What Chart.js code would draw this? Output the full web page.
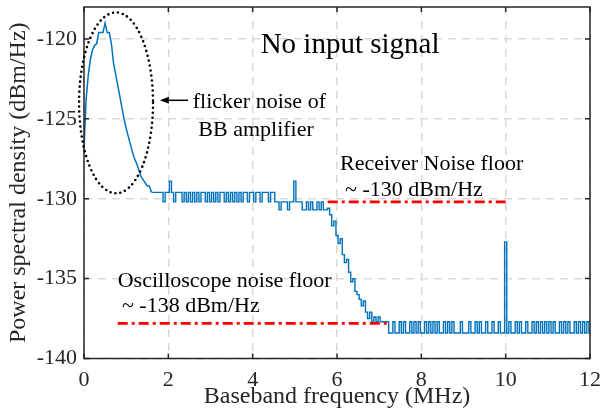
<!DOCTYPE html>
<html>
<head>
<meta charset="utf-8">
<script src="https://cdn.jsdelivr.net/npm/chart.js@4.4.1/dist/chart.umd.min.js"></script>
<style>
  html, body { margin: 0; padding: 0; background: #ffffff; }
  canvas { display: block; }
</style>
</head>
<body>
<canvas id="psd" width="603" height="411"></canvas>
<script>
// Spectrum sampled every 50 kHz from 0 to 12 MHz (dBm/Hz)
const FREQ_STEP_MHZ = 0.05;

// 0 - 1.60 MHz: flicker noise hump of the baseband amplifier
const psdFlicker = [
  -126.8, -123.8, -122.3, -121.3, -120.7, -120.4, -120.3, -119.6, -119.6, -119.6,
  -119.0, -119.6, -119.6, -120.3, -121.5, -122.2, -122.9, -123.6, -124.3, -125.0,
  -125.6, -126.1, -126.6, -127.1, -127.5, -127.8, -128.2, -128.6, -128.8, -129.0,
  -129.2, -129.2, -129.6
];

// 1.65 - 5.75 MHz: receiver noise plateau
const psdPlateau = [
  -129.6, -129.6, -129.6, -129.6, -129.6, -130.2, -129.6, -129.6, -128.9, -129.6,
  -130.2, -129.6, -129.6, -129.6, -130.2, -129.6, -130.2, -129.6, -130.2, -129.6,
  -130.2, -129.6, -130.2, -129.6, -129.6, -130.2, -129.6, -130.2, -129.6, -130.2,
  -129.6, -130.2, -129.6, -129.6, -130.2, -129.6, -130.2, -129.6, -130.2, -129.6,
  -130.2, -129.6, -130.2, -129.6, -129.6, -130.2, -129.6, -129.6, -130.2, -129.6,
  -129.6, -130.2, -129.6, -129.6, -129.6, -130.2, -129.6, -129.6, -130.2, -130.2,
  -130.7, -130.2, -130.2, -130.2, -130.7, -130.2, -130.2, -128.9, -130.2, -130.2,
  -130.2, -130.7, -130.7, -130.2, -130.7, -130.2, -130.7, -130.7, -130.2, -130.7,
  -130.2, -130.7, -130.7
];

// 5.80 - 7.25 MHz: filter roll-off
const psdRolloff = [
  -130.6, -131.0, -131.7, -131.4, -132.3, -132.8, -132.5, -133.5, -134.0, -133.8,
  -134.6, -135.2, -135.0, -135.8, -136.0, -136.3, -136.7, -136.4, -137.1, -137.5,
  -137.1, -137.7, -137.4, -137.7, -137.4, -137.7, -137.7, -137.7, -137.7, -138.4
];

// 7.30 - 12.00 MHz: oscilloscope noise floor (spur at 10 MHz)
const psdFloor = [
  -138.4, -137.7, -138.4, -138.4, -137.7, -138.4, -137.7, -138.4, -138.4, -137.7,
  -138.4, -137.7, -138.4, -137.7, -138.4, -138.4, -137.7, -138.4, -137.7, -138.4,
  -137.7, -138.4, -137.7, -138.4, -138.4, -137.7, -138.4, -137.7, -138.4, -137.7,
  -138.4, -138.4, -138.4, -137.7, -138.4, -138.4, -138.4, -137.7, -138.4, -138.4,
  -137.7, -138.4, -137.7, -138.4, -138.4, -137.7, -138.4, -138.4, -137.7, -138.4,
  -138.4, -137.7, -138.4, -138.4, -132.7, -138.4, -137.7, -138.4, -138.4, -137.7,
  -138.4, -137.7, -138.4, -138.4, -137.7, -138.4, -138.4, -137.7, -138.4, -137.7,
  -138.4, -137.7, -138.4, -137.7, -138.4, -137.7, -138.4, -137.7, -138.4, -138.4,
  -137.7, -138.4, -137.7, -138.4, -137.7, -138.4, -138.4, -137.7, -138.4, -137.7,
  -138.4, -137.7, -138.4, -137.7, -138.4
];

// Reference noise-floor levels (dash-dot lines)
const receiverFloorX = [5.78, 10.0];
const receiverFloorY = [-130.2, -130.2];
const scopeFloorX = [0.8, 7.2];
const scopeFloorY = [-137.8, -137.8];

// Axis ticks
const xTicks = [0, 2, 4, 6, 8, 10, 12];
const yTicks = [-140, -135, -130, -125, -120];

const psd = [...psdFlicker, ...psdPlateau, ...psdRolloff, ...psdFloor];
const spectrum = psd.map((v, i) => ({ x: +(i * FREQ_STEP_MHZ).toFixed(2), y: v }));
// smooth hump drawn as a polyline, quantised noise part drawn as steps
const humpPoints = spectrum.slice(0, psdFlicker.length);
const noisePoints = spectrum.slice(psdFlicker.length - 1);
const toPoints = (xs, ys) => xs.map((v, i) => ({ x: v, y: ys[i] }));

const SERIF = '"Liberation Serif", "Times New Roman", Times, serif';
const AXIS_INK = '#262626';
const TRACE = '#0072BD';

// Callouts placed in data coordinates (MHz, dBm/Hz)
const labels = [
  { text: 'No input signal',          x: 6.31, y: -120.85, size: 29, align: 'center' },
  { text: 'flicker noise of',         x: 2.58, y: -124.34, size: 22, align: 'left' },
  { text: 'BB amplifier',             x: 4.08, y: -126.09, size: 22, align: 'center' },
  { text: 'Receiver Noise floor',     x: 6.07, y: -128.22, size: 22, align: 'left' },
  { text: '~ -130 dBm/Hz',            x: 6.19, y: -129.84, size: 22, align: 'left' },
  { text: 'Oscilloscope noise floor', x: 0.80, y: -135.53, size: 22, align: 'left' },
  { text: '~ -138 dBm/Hz',            x: 0.90, y: -137.09, size: 22, align: 'left' }
];
const flickerRing = { cx: 0.76, cy: -124.0, rx: 0.877, ry: 5.66 };
const flickerArrow = { x0: 2.47, x1: 1.80, y: -123.84 };

const decorations = {
  id: 'decorations',
  afterDraw(chart) {
    const { ctx, chartArea: a, scales: { x, y } } = chart;
    ctx.save();

    // axes box with inward tick marks on all four sides
    ctx.strokeStyle = AXIS_INK;
    ctx.lineWidth = 1.5;
    ctx.setLineDash([]);
    ctx.strokeRect(a.left, a.top, a.right - a.left, a.bottom - a.top);
    const tl = 5;
    ctx.beginPath();
    xTicks.forEach(v => {
      const px = x.getPixelForValue(v);
      ctx.moveTo(px, a.bottom); ctx.lineTo(px, a.bottom - tl);
      ctx.moveTo(px, a.top);    ctx.lineTo(px, a.top + tl);
    });
    yTicks.forEach(v => {
      const py = y.getPixelForValue(v);
      ctx.moveTo(a.left, py);  ctx.lineTo(a.left + tl, py);
      ctx.moveTo(a.right, py); ctx.lineTo(a.right - tl, py);
    });
    ctx.stroke();

    // dotted ring around the flicker hump
    const cx = x.getPixelForValue(flickerRing.cx);
    const cy = y.getPixelForValue(flickerRing.cy);
    const rx = x.getPixelForValue(flickerRing.cx + flickerRing.rx) - cx;
    const ry = y.getPixelForValue(flickerRing.cy - flickerRing.ry) - cy;
    ctx.beginPath();
    ctx.ellipse(cx, cy, rx, ry, 0, 0, Math.PI * 2);
    ctx.strokeStyle = '#000000';
    ctx.lineWidth = 2.6;
    ctx.lineCap = 'round';
    ctx.setLineDash([0, 5]);
    ctx.stroke();
    ctx.setLineDash([]);
    ctx.lineCap = 'butt';

    // arrow pointing at the ring
    const ax0 = x.getPixelForValue(flickerArrow.x0);
    const ax1 = x.getPixelForValue(flickerArrow.x1);
    const ay = y.getPixelForValue(flickerArrow.y);
    ctx.beginPath();
    ctx.moveTo(ax0, ay);
    ctx.lineTo(ax1 + 6, ay);
    ctx.lineWidth = 1.5;
    ctx.stroke();
    ctx.beginPath();
    ctx.moveTo(ax1, ay);
    ctx.lineTo(ax1 + 9, ay - 3.5);
    ctx.lineTo(ax1 + 9, ay + 3.5);
    ctx.closePath();
    ctx.fillStyle = '#000000';
    ctx.fill();

    // text callouts
    ctx.fillStyle = '#000000';
    ctx.textBaseline = 'alphabetic';
    labels.forEach(l => {
      ctx.font = `${l.size}px ${SERIF}`;
      ctx.textAlign = l.align;
      ctx.fillText(l.text, x.getPixelForValue(l.x), y.getPixelForValue(l.y));
    });
    ctx.restore();
  }
};

const gridStyle = { color: '#d9d9d9', lineWidth: 1.5, drawTicks: false };

new Chart(document.getElementById('psd'), {
  type: 'line',
  data: {
    datasets: [
      {
        data: toPoints(receiverFloorX, receiverFloorY),
        borderColor: '#ff0000', borderWidth: 2.8, borderDash: [10, 4, 3, 4],
        pointRadius: 0, order: 0
      },
      {
        data: toPoints(scopeFloorX, scopeFloorY),
        borderColor: '#ff0000', borderWidth: 2.8, borderDash: [10, 4, 3, 4],
        pointRadius: 0, order: 0
      },
      {
        data: humpPoints,
        borderColor: TRACE, borderWidth: 1.5,
        pointRadius: 0, tension: 0, order: 1
      },
      {
        data: noisePoints,
        borderColor: TRACE, borderWidth: 1.4,
        pointRadius: 0, stepped: 'middle', order: 1
      }
    ]
  },
  options: {
    responsive: false,
    animation: false,
    devicePixelRatio: 1,
    layout: { padding: { left: 0, top: 7, right: 13, bottom: 0 } },
    plugins: { legend: { display: false }, tooltip: { enabled: false } },
    scales: {
      x: {
        type: 'linear', min: 0, max: 12,
        afterFit: s => { s.height = 52.5; s.paddingLeft = 0; s.paddingRight = 0; },
        afterBuildTicks: s => { s.ticks = xTicks.map(v => ({ value: v })); },
        grid: gridStyle,
        border: { display: false, dash: [8, 6] },
        ticks: {
          color: AXIS_INK, padding: 9, autoSkip: false, maxRotation: 0,
          font: { family: SERIF, size: 22 }
        },
        title: {
          display: true, text: 'Baseband frequency (MHz)', color: AXIS_INK,
          padding: 0, font: { family: SERIF, size: 24 }
        }
      },
      y: {
        type: 'linear', min: -140, max: -118,
        afterFit: s => { s.width = 84; s.paddingTop = 0; s.paddingBottom = 0; },
        afterBuildTicks: s => { s.ticks = yTicks.map(v => ({ value: v })); },
        grid: gridStyle,
        border: { display: false, dash: [8, 6] },
        ticks: {
          color: AXIS_INK, padding: 7, includeBounds: false,
          font: { family: SERIF, size: 22 }
        },
        title: {
          display: true, text: 'Power spectral density (dBm/Hz)', color: AXIS_INK,
          padding: { top: 4, bottom: 0 }, font: { family: SERIF, size: 24 }
        }
      }
    }
  },
  plugins: [decorations]
});
</script>
</body>
</html>
